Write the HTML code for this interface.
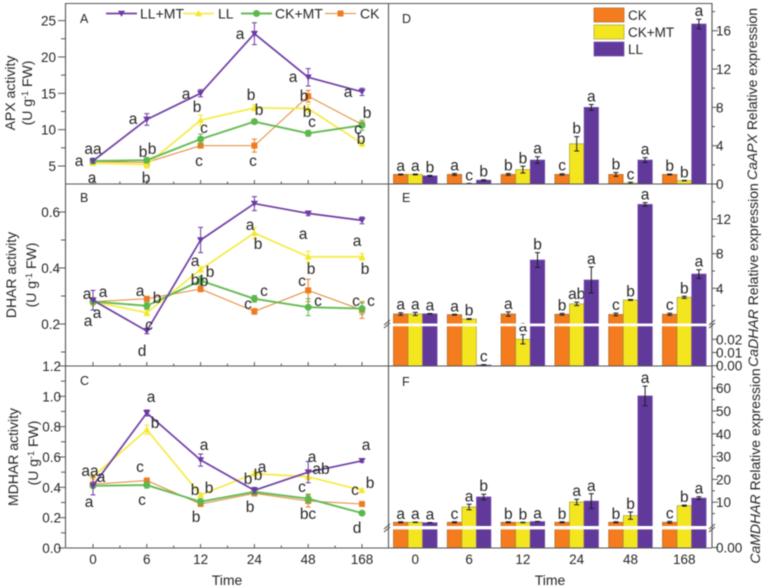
<!DOCTYPE html>
<html lang="en"><head><meta charset="utf-8"><title>Antioxidant enzyme activity and gene expression</title>
<style>
html,body{margin:0;padding:0;background:#fff;width:767px;height:587px;overflow:hidden}
svg{display:block;filter:blur(.5px)}
text{font-family:"Liberation Sans",sans-serif;fill:#262626}
.sig text{font-size:15.5px;text-anchor:middle}
.pl{font-size:12.5px}
.ti{font-size:14px}
</style></head><body>
<svg id="chart" width="767" height="587" viewBox="0 0 767 587" xmlns="http://www.w3.org/2000/svg">
<rect width="767" height="587" fill="#fff"/>
<g id="marks"></g>
<g id="frame" stroke="#555" stroke-width="1.1" fill="none">
<path d="M65.5 3.5H712M65.5 184H712M65.5 366H712M65.5 548H712M65.5 3V548M388.5 3V548M712 3V548"/>
<path d="M384 325l6-5M384 328l6-5M709 325l6-5M709 328l6-5"/>
<path d="M384 529l6-5M384 532l6-5M709 529l6-5M709 532l6-5"/>
</g>
<g id="axes"></g>
<text class="pl" x="80" y="23">A</text>
<text class="pl" x="80" y="202">B</text>
<text class="pl" x="80" y="385">C</text>
<text class="pl" x="402" y="23">D</text>
<text class="pl" x="402" y="202">E</text>
<text class="pl" x="402" y="386">F</text>
<text class="ti" transform="translate(15 93) rotate(-90)" text-anchor="middle">APX activity</text>
<text class="ti" transform="translate(32 93) rotate(-90)" text-anchor="middle">(U g<tspan dy="-4" font-size="9">-1</tspan><tspan dy="4"> FW)</tspan></text>
<text class="ti" transform="translate(16 275) rotate(-90)" text-anchor="middle">DHAR activity</text>
<text class="ti" transform="translate(36 275) rotate(-90)" text-anchor="middle">(U g<tspan dy="-4" font-size="9">-1</tspan><tspan dy="4"> FW)</tspan></text>
<text class="ti" transform="translate(18 457) rotate(-90)" text-anchor="middle">MDHAR activity</text>
<text class="ti" transform="translate(38 453) rotate(-90)" text-anchor="middle">(U g<tspan dy="-4" font-size="9">-1</tspan><tspan dy="4"> FW)</tspan></text>
<text class="ti" transform="translate(757 94) rotate(-90)" text-anchor="middle"><tspan font-style="italic">CaAPX</tspan> Relative expression</text>
<text class="ti" transform="translate(758 275) rotate(-90)" text-anchor="middle"><tspan font-style="italic">CaDHAR</tspan> Relative expression</text>
<text class="ti" transform="translate(760 466) rotate(-90)" text-anchor="middle"><tspan font-style="italic">CaMDHAR</tspan> Relative expression</text>
<text class="ti" x="227" y="585" text-anchor="middle">Time</text>
<text class="ti" x="550" y="585" text-anchor="middle">Time</text>
<g class="sig">
<text x="79" y="166">a</text><text x="93" y="154">aa</text><text x="92" y="183">a</text>
<text x="143" y="157">b</text><text x="152" y="154">b</text><text x="146" y="183">b</text><text x="133" y="124">a</text>
<text x="186" y="99">a</text><text x="197" y="112">b</text><text x="204" y="133">c</text><text x="199" y="166">c</text>
<text x="240" y="39">a</text><text x="251" y="100">b</text><text x="259" y="115">b</text><text x="253" y="166">c</text>
<text x="293" y="82">a</text><text x="304" y="101">b</text><text x="307" y="117">b</text><text x="312" y="127">c</text>
<text x="348" y="97">a</text><text x="367" y="118">b</text><text x="358" y="134">c</text><text x="361" y="144">b</text>
</g>
<g class="sig">
<text x="87" y="299">a</text><text x="103" y="297">a</text><text x="97" y="318">a</text><text x="88" y="326">a</text>
<text x="140" y="296">a</text><text x="157" y="303">b</text><text x="149" y="330">c</text><text x="142" y="356">d</text>
<text x="195" y="266">a</text><text x="210" y="277">b</text><text x="195" y="285">b</text><text x="204" y="286">b</text>
<text x="250" y="230">a</text><text x="258" y="249">b</text><text x="264" y="296">c</text><text x="248" y="309">c</text>
<text x="303" y="239">a</text><text x="311" y="274">b</text><text x="302" y="286">c</text><text x="318" y="306">c</text>
<text x="357" y="246">a</text><text x="365" y="274">b</text><text x="356" y="306">c</text><text x="371" y="306">c</text>
</g>
<g class="sig">
<text x="90" y="476">aa</text><text x="101" y="482">a</text><text x="89" y="507">a</text>
<text x="151" y="402">a</text><text x="155" y="428">b</text><text x="140" y="472">c</text><text x="142" y="505">c</text>
<text x="204" y="450">a</text><text x="195" y="495">b</text><text x="209" y="493">b</text><text x="196" y="522">b</text>
<text x="262" y="472">a</text><text x="248" y="484">b</text><text x="258" y="480">b</text><text x="250" y="512">b</text>
<text x="312" y="462">a</text><text x="321" y="474">ab</text><text x="302" y="492">c</text><text x="308" y="519">bc</text>
<text x="366" y="450">a</text><text x="370" y="488">b</text><text x="355" y="495">c</text><text x="357" y="533">d</text>
</g>
<g id="legend-lines"></g>
<g id="legend-bars"></g>
</svg>
<script>
const timeLabels = ['0','6','12','24','48','168'];
const lineSeriesNames = ['CK','LL','CK+MT','LL+MT'];
const barSeriesNames = ['CK','CK+MT','LL'];

// Panel A: APX activity
const apxCK = [5.6,5.5,7.8,7.8,14.6,10.7];
const apxCKErr = [0.2,0.6,0.3,0.9,0.8,0.3];
const apxLL = [5.4,5.2,11.3,13,12.9,8.1];
const apxLLErr = [0.3,0.5,0.7,0.4,0.6,0.4];
const apxCKMT = [5.7,5.8,8.7,11.1,9.5,10.6];
const apxCKMTErr = [0.2,0.3,0.7,0.3,0.4,0.7];
const apxLLMT = [5.7,11.4,15,23.2,17.2,15.2];
const apxLLMTErr = [0.3,0.8,0.5,1.5,1.2,0.5];
const apxTicks = [5,10,15,20,25];
const apxMinor = [7.5,12.5,17.5,22.5];

// Panel B: DHAR activity
const dharCK = [0.28,0.29,0.325,0.245,0.32,0.25];
const dharCKErr = [0.01,0.008,0.01,0.01,0.04,0.03];
const dharLL = [0.28,0.24,0.395,0.525,0.44,0.44];
const dharLLErr = [0.015,0.01,0.01,0.02,0.02,0.012];
const dharCKMT = [0.28,0.265,0.355,0.29,0.26,0.255];
const dharCKMTErr = [0.01,0.012,0.015,0.012,0.03,0.02];
const dharLLMT = [0.285,0.175,0.5,0.63,0.595,0.57];
const dharLLMTErr = [0.035,0.01,0.045,0.025,0.008,0.012];
const dharTicks = [0.2,0.4,0.6];
const dharMinor = [0.1,0.3,0.5];

// Panel C: MDHAR activity
const mdharCK = [0.42,0.445,0.29,0.36,0.31,0.29];
const mdharCKErr = [0.01,0.015,0.01,0.015,0.04,0.008];
const mdharLL = [0.47,0.78,0.35,0.49,0.47,0.38];
const mdharLLErr = [0.01,0.03,0.01,0.015,0.02,0.01];
const mdharCKMT = [0.41,0.415,0.305,0.37,0.325,0.23];
const mdharCKMTErr = [0.01,0.02,0.02,0.015,0.03,0.008];
const mdharLLMT = [0.41,0.89,0.58,0.38,0.5,0.575];
const mdharLLMTErr = [0.06,0.02,0.04,0.02,0.07,0.01];
const mdharTicks = [0,0.2,0.4,0.6,0.8,1.0,1.2];
const mdharMinor = [0.1,0.3,0.5,0.7,0.9,1.1];

// Panel D: CaAPX
const caApxCK = [1,1,1,1,1,1];
const caApxCKErr = [0.05,0.1,0.1,0.07,0.2,0.05];
const caApxCKMT = [1,0.05,1.5,4.2,0.1,0.35];
const caApxCKMTErr = [0.05,0.02,0.35,0.75,0.08,0.03];
const caApxLL = [0.85,0.4,2.5,8,2.5,16.7];
const caApxLLErr = [0.05,0.05,0.35,0.3,0.25,0.5];
const caApxLetters = [['a','a','b'],['a','c','b'],['b','b','a'],['c','b','a'],['b','c','a'],['b','b','a']];
const caApxTicks = [0,4,8,12,16];
const caApxMinor = [2,6,10,14,18];

// Panel E: CaDHAR (broken axis)
const caDharCK = [1.03,0.95,1.03,1.0,0.98,1.0];
const caDharCKErr = [0.15,0.05,0.25,0.1,0.15,0.12];
const caDharCKMT = [1.03,0.45,0.02,2.2,2.65,2.96];
const caDharCKMTErr = [0.18,0.05,0.0035,0.2,0.05,0.12];
const caDharLL = [1.05,0.0005,7.27,4.96,13.7,5.65];
const caDharLLErr = [0.04,0.0003,0.85,1.5,0.2,0.5];
const caDharLetters = [['a','a','a'],['a','b','c'],['a','a','b'],['b','ab','a'],['c','b','a'],['c','b','a']];
const caDharTicks = [4,8,12];
const caDharMinor = [2,6,10,14];
const caDharLowTicks = [0,0.01,0.02];

// Panel F: CaMDHAR (broken axis)
const caMdharCK = [1.2,1.2,1.2,1.2,1.2,1.2];
const caMdharCKErr = [0.2,0.2,0.2,0.2,0.2,0.4];
const caMdharCKMT = [1.2,7.9,1.1,10.1,4.1,8.5];
const caMdharCKMTErr = [0.1,1.2,0.1,1.2,1.6,0.2];
const caMdharLL = [1.0,12.3,1.5,10.5,56.6,11.8];
const caMdharLLErr = [0.1,1.2,0.1,3.2,4.3,0.6];
const caMdharLetters = [['a','a','a'],['c','a','b'],['b','b','a'],['b','a','a'],['b','b','a'],['c','b','a']];
const caMdharTicks = [10,20,30,40,50,60];
const caMdharMinor = [5,15,25,35,45,55,65];

const NS = 'http://www.w3.org/2000/svg';
const marks = document.getElementById('marks');
const axes = document.getElementById('axes');
function el(tag, attrs, parent) {
  const e = document.createElementNS(NS, tag);
  for (const k in attrs) e.setAttribute(k, attrs[k]);
  parent.appendChild(e);
  return e;
}
const xLine = i => 93 + i * 53.8;
const yA = v => 166 - (v - 5) * 7.27;
const yB = v => 324 - (v - 0.2) * 280;
const yC = v => 548 - v * 151.7;
const xBar = (i, s) => 415.3 + i * 53.8 + (s - 1) * 14.6;
const yD = v => 184 - v * 9.58;
const yE = v => v <= 0.03 ? 365.7 - v * 1320 : 288.3 - (v - 4) * 8.65;
const yF = v => 525 - v * 2.28;

const lineColors = ['#e08a35','#f6ec50','#66bb55','#6f3fa5'];
const lineWidths = [1,1.8,1.9,1.7];
const edgeColors = ['#f07a20','#f4e72e','#5cb84c','#6b3aa3'];

function markerAt(g, kind, x, y, color) {
  let m;
  if (kind === 0) {
    m = el('rect', {x: x - 3, y: y - 3, width: 6, height: 6, fill: color}, g);
  } else if (kind === 1) {
    m = el('path', {d: `M${x - 3.5} ${y + 2.8}L${x + 3.5} ${y + 2.8}L${x} ${y - 3.4}Z`, fill: color}, g);
  } else if (kind === 2) {
    m = el('circle', {cx: x, cy: y, r: 3.5, fill: color}, g);
  } else {
    m = el('path', {d: `M${x - 3.6} ${y - 2.8}L${x + 3.6} ${y - 2.8}L${x} ${y + 3.4}Z`, fill: color}, g);
  }
  
  
}

function drawLinePanel(panel, yFn, seriesList) {
  seriesList.forEach((pair, s) => {
    const g = el('g', {}, marks);
    
    
    const vals = pair[0], errs = pair[1];
    const pts = vals.map((v, i) => xLine(i) + ',' + yFn(v)).join(' ');
    const line = el('polyline', {points: pts, fill: 'none', stroke: lineColors[s], 'stroke-width': lineWidths[s], 'stroke-linejoin': 'round'}, g);
    
    
    vals.forEach((v, i) => {
      const x = xLine(i), y1 = yFn(v - errs[i]), y2 = yFn(v + errs[i]);
      const err = el('path', {d: `M${x} ${y1}V${y2}M${x - 2.5} ${y1}h5M${x - 2.5} ${y2}h5`, stroke: edgeColors[s], 'stroke-width': 1, fill: 'none'}, g);
      
      
      markerAt(g, s, x, yFn(v), edgeColors[s]);
    });
  });
}
drawLinePanel('apx', yA, [[apxCK,apxCKErr],[apxLL,apxLLErr],[apxCKMT,apxCKMTErr],[apxLLMT,apxLLMTErr]]);
drawLinePanel('dhar', yB, [[dharCK,dharCKErr],[dharLL,dharLLErr],[dharCKMT,dharCKMTErr],[dharLLMT,dharLLMTErr]]);
drawLinePanel('mdhar', yC, [[mdharCK,mdharCKErr],[mdharLL,mdharLLErr],[mdharCKMT,mdharCKMTErr],[mdharLLMT,mdharLLMTErr]]);

const barFills = ['#f47c1e','#f4e61e','#60399b'];
const barEdges = ['#a8672a','#a8a030','#7a4fa8'];
function drawBarPanel(panel, yFn, bottom, seriesList, letters) {
  seriesList.forEach((pair, s) => {
    const vals = pair[0], errs = pair[1];
    vals.forEach((v, i) => {
      const cx = xBar(i, s), y = yFn(v);
      const bar = el('rect', {x: cx - 7.2, y: y, width: 14.4, height: Math.max(0, bottom - y), fill: barFills[s], stroke: barEdges[s], 'stroke-width': 0.7}, marks);
      
      
      const y1 = yFn(v - errs[i]), y2 = yFn(v + errs[i]);
      const err = el('path', {d: `M${cx} ${y1}V${y2}M${cx - 2.5} ${y1}h5M${cx - 2.5} ${y2}h5`, stroke: '#1c1c28', 'stroke-width': 1, fill: 'none'}, marks);
      
      
      const t = el('text', {x: cx, y: y2 - 3, 'text-anchor': 'middle', 'font-size': 15.5}, marks);
      
      
      t.textContent = letters[i][s];
    });
  });
}
drawBarPanel('caapx', yD, 184, [[caApxCK,caApxCKErr],[caApxCKMT,caApxCKMTErr],[caApxLL,caApxLLErr]], caApxLetters);
drawBarPanel('cadhar', yE, 366, [[caDharCK,caDharCKErr],[caDharCKMT,caDharCKMTErr],[caDharLL,caDharLLErr]], caDharLetters);
drawBarPanel('camdhar', yF, 548, [[caMdharCK,caMdharCKErr],[caMdharCKMT,caMdharCKMTErr],[caMdharLL,caMdharLLErr]], caMdharLetters);

const bandE = el('rect', {x: 389, y: 323.5, width: 322, height: 2.8, fill: '#fff'}, marks);


const bandF = el('rect', {x: 389, y: 526, width: 322, height: 3.4, fill: '#fff'}, marks);



function tickMark(d, name) {
  const p = el('path', {d: d, stroke: '#555', 'stroke-width': 1, fill: 'none'}, axes);
  
  
}
function tickText(x, y, anchor, label, name, size) {
  const t = el('text', {x: x, y: y + 5, 'text-anchor': anchor, 'font-size': size}, axes);
  
  
  t.textContent = label;
}
function leftAxis(ticks, minor, yFn, fmt, name, labelEnd) {
  ticks.forEach(v => {
    tickMark(`M58 ${yFn(v)}H65`, name + '-tick');
    tickText(labelEnd, yFn(v), 'end', fmt(v), name + '-tick-label', 13.5);
  });
  minor.forEach(v => tickMark(`M61 ${yFn(v)}H65`, name + '-minor-tick'));
}
leftAxis(apxTicks, apxMinor, yA, v => String(v), 'apx-y-axis', 56);
leftAxis(dharTicks, dharMinor, yB, v => v.toFixed(1), 'dhar-y-axis', 60);
leftAxis(mdharTicks, mdharMinor, yC, v => v.toFixed(1), 'mdhar-y-axis', 61);

function rightAxis(ticks, minor, yFn, fmt, name) {
  ticks.forEach(v => {
    tickMark(`M712 ${yFn(v)}H718`, name + '-tick');
    tickText(716, yFn(v), 'start', fmt(v), name + '-tick-label', 13.5);
  });
  minor.forEach(v => tickMark(`M712 ${yFn(v)}H715`, name + '-minor-tick'));
}
rightAxis(caApxTicks, caApxMinor, yD, v => String(v), 'caapx-y-axis');
rightAxis(caDharTicks, caDharMinor, yE, v => String(v), 'cadhar-y-axis');
rightAxis(caDharLowTicks, [], yE, v => v.toFixed(2), 'cadhar-low-y-axis');
rightAxis(caMdharTicks, caMdharMinor, yF, v => String(v), 'camdhar-y-axis');
rightAxis([0], [], v => 547.5, v => '0.00', 'camdhar-low-y-axis');

[184, 366, 548].forEach(base => {
  timeLabels.forEach((lab, i) => {
    tickMark(`M${xLine(i)} ${base}v-4`, 'x-tick');
    if (i < timeLabels.length - 1) tickMark(`M${xLine(i) + 26.9} ${base}v-2.5`, 'x-minor-tick');
  });
});
timeLabels.forEach((lab, i) => {
  tickText(xLine(i), 559, 'middle', lab, 'left-x-tick-label', 13.5);
  tickText(xBar(i, 1), 559, 'middle', lab, 'right-x-tick-label', 13.5);
});

const lineLegend = document.getElementById('legend-lines');
[[3,'LL+MT',106,140],[1,'LL',183,218],[2,'CK+MT',241,275],[0,'CK',325,360]].forEach(entry => {
  const g = el('g', {}, lineLegend);
  
  
  const s = entry[0], x0 = entry[2];
  const ln = el('path', {d: `M${x0} 13.5h31`, stroke: lineColors[s], 'stroke-width': lineWidths[s], fill: 'none'}, g);
  
  
  markerAt(g, s, x0 + 15.5, 13.5, edgeColors[s]);
  const t = el('text', {x: entry[3], y: 18.5, 'font-size': 14}, g);
  
  
  t.textContent = entry[1];
});
const barLegend = document.getElementById('legend-bars');
barSeriesNames.forEach((name, s) => {
  const g = el('g', {}, barLegend);
  
  
  const sw = el('rect', {x: 594, y: 8 + s * 17, width: 30, height: 14, fill: barFills[s], stroke: barEdges[s], 'stroke-width': 0.7}, g);
  
  
  const t = el('text', {x: 628, y: 20 + s * 17, 'font-size': 13.5}, g);
  
  
  t.textContent = name;
});
</script>
</body></html>
